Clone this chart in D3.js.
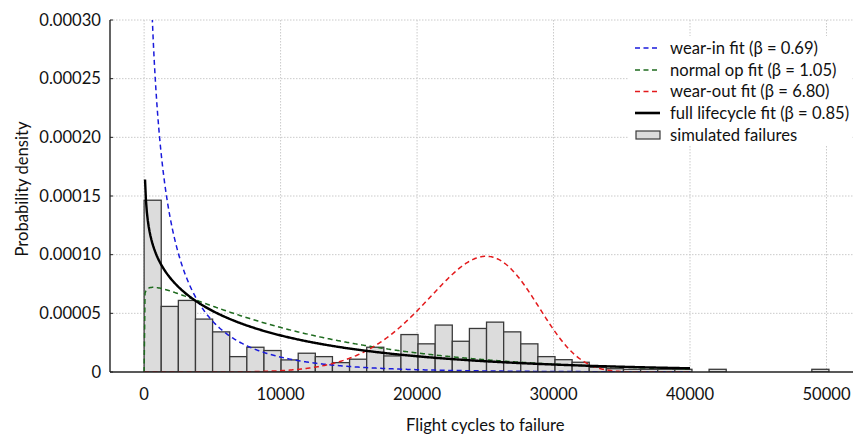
<!DOCTYPE html>
<html><head><meta charset="utf-8">
<script src="https://cdn.jsdelivr.net/npm/d3@7"></script>
<style>
html,body{margin:0;padding:0;background:#fff;}
text{font-family:Lato, "Noto Sans", sans-serif;fill:#111;}
</style></head>
<body><svg id="chart" width="853" height="436"></svg>
<script>
// ---------- data ----------
const binStart = 0;
const binWidth = 1254.5;
const binDensity = [14.64e-5, 5.59e-5, 6.10e-5, 4.51e-5, 3.42e-5, 1.31e-5, 2.11e-5, 1.83e-5, 1.03e-5, 1.60e-5,
  1.31e-5, 0.80e-5, 1.09e-5, 2.11e-5, 1.37e-5, 3.19e-5, 2.40e-5, 4.00e-5, 2.62e-5, 3.71e-5,
  4.25e-5, 3.42e-5, 2.40e-5, 1.31e-5, 1.05e-5, 0.83e-5, 0.40e-5, 0.28e-5, 0.23e-5, 0.23e-5,
  0.23e-5, 0.23e-5, 0, 0.23e-5, 0, 0, 0, 0, 0, 0.23e-5];
const fitLabels = ["wear-in fit (β = 0.69)", "normal op fit (β = 1.05)", "wear-out fit (β = 6.80)", "full lifecycle fit (β = 0.85)"];
const fitBeta = [0.69, 1.05, 6.80, 0.85];
const fitEta = [2400, 12000, 25650, 11000];
const fitColor = ["#1a1adb", "#1f6b1f", "#e31a1c", "#000000"];
const fitDashed = [true, true, true, false];
const curveRange = [0, 40000];
const curveSamples = 600;
const histLabel = "simulated failures";
const xTicks = [0, 10000, 20000, 30000, 40000, 50000];
const xTickLabels = ["0", "10000", "20000", "30000", "40000", "50000"];
const yTicks = [0, 0.00005, 0.00010, 0.00015, 0.00020, 0.00025, 0.00030];
const yTickLabels = ["0", "0.00005", "0.00010", "0.00015", "0.00020", "0.00025", "0.00030"];
const xTitle = "Flight cycles to failure";
const yTitle = "Probability density";

// ---------- layout ----------
const FS = 16.6;
const svg = d3.select("#chart");
const L = 110, T = 20, B = 372, R = 860.6;
const x = d3.scaleLinear().domain([-2500, 52500]).range([L, R]);
const y = d3.scaleLinear().domain([0, 0.0003]).range([B, T]);

svg.append("defs").append("clipPath").attr("id", "clip")
  .append("rect").attr("x", L).attr("y", T).attr("width", R - L).attr("height", B - T);

// grid
const grid = svg.append("g");
grid.selectAll("line.gy").data(yTicks.slice(1)).join("line")
  .attr("x1", L).attr("x2", R).attr("y1", d => y(d)).attr("y2", d => y(d))
  .attr("stroke", "#cacaca").attr("stroke-width", 1).attr("stroke-dasharray", "1.5,1.5");
grid.selectAll("line.gx").data(xTicks).join("line")
  .attr("x1", d => x(d)).attr("x2", d => x(d)).attr("y1", T).attr("y2", B)
  .attr("stroke", "#cacaca").attr("stroke-width", 1).attr("stroke-dasharray", "1.5,1.5");

// histogram
const bins = binDensity.map((d, i) => ({x0: binStart + i * binWidth, x1: binStart + (i + 1) * binWidth, d}));
const plot = svg.append("g").attr("clip-path", "url(#clip)");
plot.selectAll("rect.bar").data(bins.filter(b => b.d > 0)).join("rect")
  .attr("x", b => x(b.x0)).attr("width", b => x(b.x1) - x(b.x0))
  .attr("y", b => y(b.d)).attr("height", b => y(0) - y(b.d))
  .attr("fill", "#dcdcdc").attr("stroke", "#3a3a3a").attr("stroke-width", 1.3);

// curves
function weibull(t, k, lam) {
  if (t <= 0) return k > 1 ? 0 : (k === 1 ? 1 / lam : Infinity);
  return (k / lam) * Math.pow(t / lam, k - 1) * Math.exp(-Math.pow(t / lam, k));
}
const xs = d3.range(curveSamples).map(i => curveRange[0] + (curveRange[1] - curveRange[0]) * i / (curveSamples - 1));
const line = d3.line().defined(p => isFinite(p[1])).x(p => x(p[0])).y(p => y(Math.min(p[1], 0.001)));
fitBeta.forEach((k, i) => {
  const pts = xs.map(t => [t, weibull(t, k, fitEta[i])]);
  plot.append("path").datum(pts).attr("d", line)
    .attr("fill", "none").attr("stroke", fitColor[i])
    .attr("stroke-width", fitDashed[i] ? 1.5 : 2.4)
    .attr("stroke-dasharray", fitDashed[i] ? "5,3.5" : null);
});

// axes
const ax = svg.append("g");
ax.append("line").attr("x1", L).attr("x2", L).attr("y1", T).attr("y2", B).attr("stroke", "#222").attr("stroke-width", 1.4);
ax.append("line").attr("x1", L).attr("x2", R).attr("y1", B).attr("y2", B).attr("stroke", "#222").attr("stroke-width", 1.4);
ax.selectAll("line.ty").data(yTicks).join("line")
  .attr("x1", L).attr("x2", L + 3).attr("y1", d => y(d)).attr("y2", d => y(d)).attr("stroke", "#222");
ax.selectAll("text.ty").data(yTicks).join("text")
  .attr("x", L - 9).attr("y", d => y(d)).attr("dy", "0.35em").attr("text-anchor", "end")
  .attr("font-size", FS).text((d, i) => yTickLabels[i]);
ax.selectAll("text.tx").data(xTicks).join("text")
  .attr("x", d => x(d)).attr("y", 400).attr("text-anchor", "middle")
  .attr("font-size", FS).text((d, i) => xTickLabels[i]);
svg.append("text").attr("x", (L + R) / 2).attr("y", 431).attr("text-anchor", "middle")
  .attr("font-size", FS).text(xTitle);
svg.append("text").attr("transform", `translate(28,${(T + B) / 2 - 7}) rotate(-90)`)
  .attr("text-anchor", "middle").attr("font-size", FS).text(yTitle);

// legend
const lg = svg.append("g");
lg.append("rect").attr("x", 628).attr("y", 36).attr("width", 224).attr("height", 110).attr("fill", "#fff");
const rowY = [48, 70, 91.5, 113, 135];
fitLabels.forEach((lab, i) => {
  lg.append("line").attr("x1", 635).attr("x2", 660).attr("y1", rowY[i]).attr("y2", rowY[i])
    .attr("stroke", fitColor[i]).attr("stroke-width", fitDashed[i] ? 1.5 : 2.6)
    .attr("stroke-dasharray", fitDashed[i] ? "5,3.5" : null);
  lg.append("text").attr("x", 670).attr("y", rowY[i]).attr("dy", "0.35em").attr("font-size", FS).text(lab);
});
lg.append("rect").attr("x", 636).attr("y", rowY[4] - 4).attr("width", 24).attr("height", 8)
  .attr("fill", "#dcdcdc").attr("stroke", "#3a3a3a").attr("stroke-width", 1.2);
lg.append("text").attr("x", 670).attr("y", rowY[4]).attr("dy", "0.35em").attr("font-size", FS).text(histLabel);
</script></body></html>
